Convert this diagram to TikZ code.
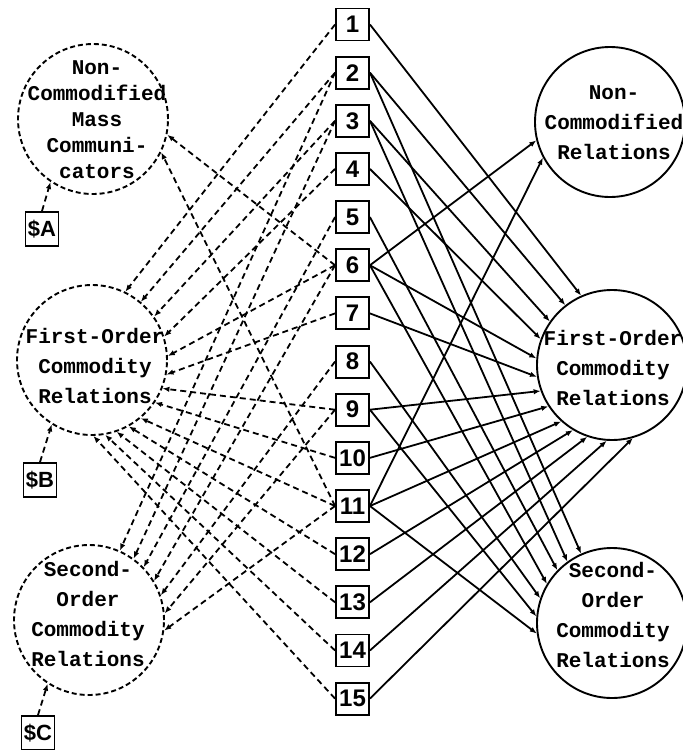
\documentclass[tikz,border=0pt]{standalone}
\usepackage{fontspec}
\setmainfont{Liberation Serif}
\newfontfamily\circfont{Liberation Mono}
\newfontfamily\numfont{Liberation Sans}
\usetikzlibrary{arrows.meta}

\tikzset{
  entity/.style={circle, draw, dash pattern=on 5pt off 3pt, line width=1.9pt,
    minimum size=150pt, inner sep=0pt},
  category/.style={circle, draw, line width=1.9pt, minimum size=150pt, inner sep=0pt},
  circtext/.style={align=center, inner sep=0pt,
    font=\circfont\bfseries\fontsize{21}{30}\selectfont},
  relbox/.style={draw, line width=1.9pt, minimum width=33pt, minimum height=32pt,
    inner sep=0pt, font=\numfont\bfseries\fontsize{24}{24}\selectfont},
  paybox/.style={relbox, minimum height=34pt, font=\numfont\bfseries\fontsize{22}{22}\selectfont},
  flow/.style={line width=1.8pt, -{Latex[length=7pt,width=5.5pt]}},
  tie/.style={line width=1.8pt, dash pattern=on 6pt off 4pt,
    -{Latex[length=7pt,width=5.5pt]}},
}

\begin{document}
\begin{tikzpicture}[x=1pt,y=-1pt]
\useasboundingbox (0,0) rectangle (683,750);

% entities on the left (dashed circles)
\node[entity] (A) at (93,119) {};
\node[entity] (B) at (92,360) {};
\node[entity] (C) at (89,620) {};
\node[circtext, font=\circfont\bfseries\fontsize{21}{26}\selectfont] (Atext) at (97,120)
  {Non-\\Commodified\\Mass\\Communi-\\cators};
\node[circtext] (Btext) at (95,366) {First-Order\\Commodity\\Relations};
\node[circtext] (Ctext) at (88,614) {Second-\\Order\\Commodity\\Relations};

% payments into the entities
\node[paybox] (pA) at (42,229) {\$A};
\node[paybox] (pB) at (40,480) {\$B};
\node[paybox] (pC) at (38,733) {\$C};
\draw[tie] (pA.north) -- (A.236);
\draw[tie] (pB.north) -- (B.238);
\draw[tie] (pC.north) -- (C.237);

% relation types on the right (solid circles)
\node[category] (NC) at (610,122) {};
\node[category] (FO) at (612,365) {};
\node[category] (SO) at (612,623) {};
\node[circtext] (NCtext) at (614,123) {Non-\\Commodified\\Relations};
\node[circtext] (FOtext) at (613,368) {First-Order\\Commodity\\Relations};
\node[circtext] (SOtext) at (613,615) {Second-\\Order\\Commodity\\Relations};

% numbered relations
\foreach \i in {1,...,15}
  \node[relbox] (r\i) at (352.5,{24.5+48.15*(\i-1)}) {\i};

% relations to the entities
\foreach \i/\a in {6/-12,11/-26}
  \draw[tie] (r\i.west) -- (A.\a);
\foreach \i/\a in {1/64,2/50,3/35,4/18,6/3,7/-11,9/-22,10/-34,11/-50,12/-61,13/-71,14/-80,15/-89}
  \draw[tie] (r\i.west) -- (B.\a);
\foreach \i/\a in {2/66,3/54,5/44,6/31,8/19,9/5,11/-8}
  \draw[tie] (r\i.west) -- (C.\a);

% relations to their types
\foreach \i/\a in {6/194,11/208}
  \draw[flow] (r\i.east) -- (NC.\a);
\foreach \i/\a in {1/114,2/128,3/145,4/160,6/175,7/189,9/200,10/213,11/228,12/239,13/251,14/266,15/286}
  \draw[flow] (r\i.east) -- (FO.\a);
\foreach \i/\a in {2/114,3/126,5/136,6/149,8/161,9/175,11/188}
  \draw[flow] (r\i.east) -- (SO.\a);
\end{tikzpicture}
\end{document}
